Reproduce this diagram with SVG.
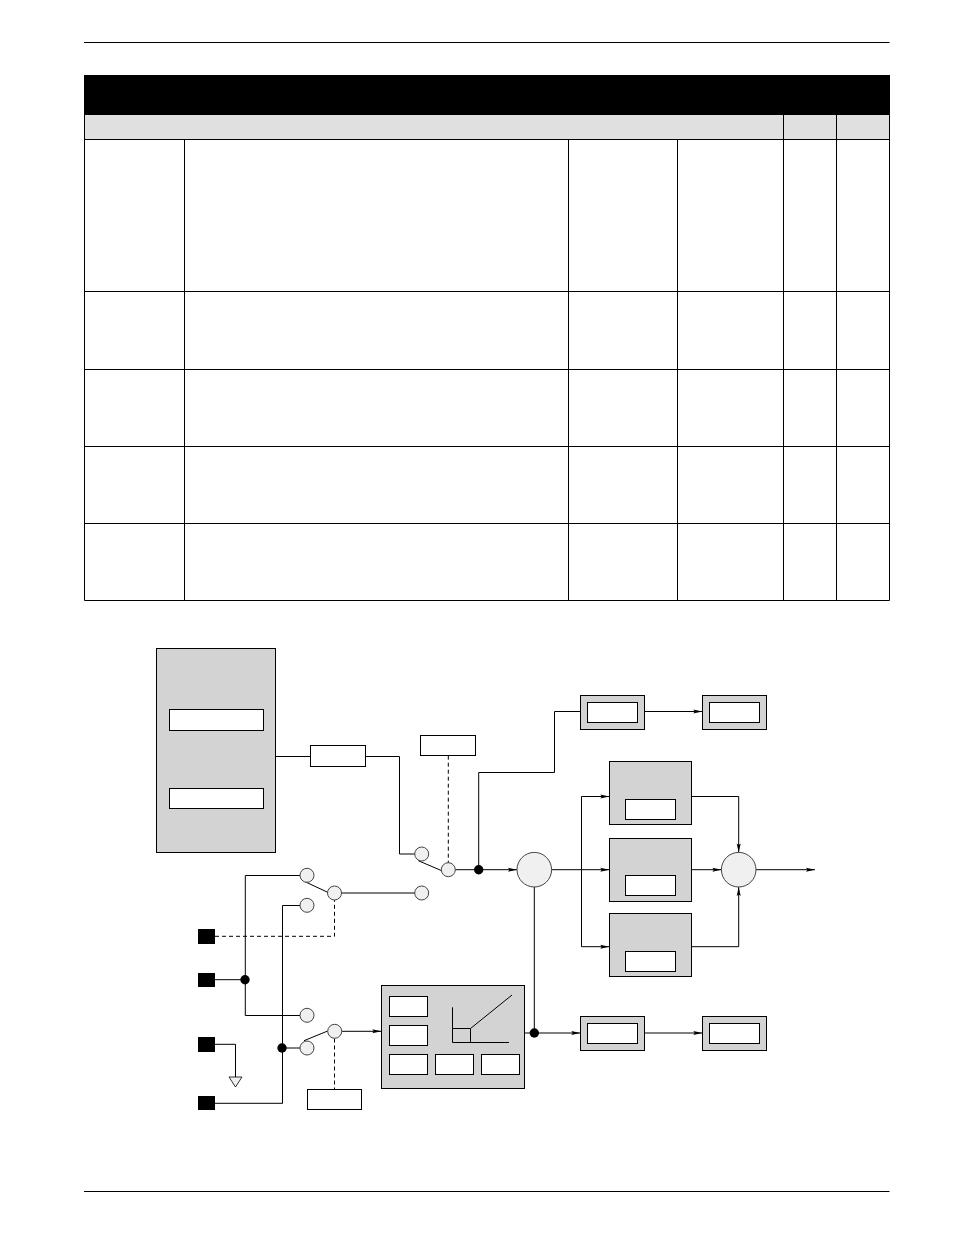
<svg xmlns="http://www.w3.org/2000/svg" width="954" height="1235" viewBox="0 0 954 1235">
<style>
.rule{stroke:#000;stroke-width:1;fill:none}
.gray{fill:#d3d3d3;stroke:#000;stroke-width:1}
.white{fill:#fff;stroke:#000;stroke-width:1}
.pad{fill:#f0f0f0;stroke:#444;stroke-width:1}
.pin{fill:#000;stroke:none}
.dot{fill:#000;stroke:none}
.wire{fill:none;stroke:#000;stroke-width:1}
.dash{fill:none;stroke:#000;stroke-width:1;stroke-dasharray:4 3}
.arrow{marker-end:url(#ah)}
</style>
<defs>
<marker id="ah" markerUnits="userSpaceOnUse" markerWidth="10" markerHeight="6" refX="9" refY="3" orient="auto" overflow="visible">
<path d="M0,1 L9,3 L0,5 L1.5,3 Z" fill="#000"/>
</marker>
</defs>
<rect width="954" height="1235" fill="#fff"/>
<g id="page-rules">
<path class="rule" d="M84 42.5H889.5M84 1191.5H889.5"/>
</g>
<g id="table">
<rect x="84" y="75" width="806" height="40" fill="#000"/>
<rect x="84.5" y="115" width="805" height="24" fill="#e0e0e0"/>
<path class="rule" d="M84.5 115V600.5M889.5 115V600.5M783.5 115V600.5M836.5 115V600.5M184.5 139V600.5M568.5 139V600.5M677.5 139V600.5M84.5 139.5H889.5M84.5 291.5H889.5M84.5 369.5H889.5M84.5 446.5H889.5M84.5 523.5H889.5M84.5 600.5H889.5"/>
</g>
<g id="connectors">
<path class="wire" d="M275.7 756.5H310.3M365.7 756.5H399.5V854H415"/>
<path class="wire" d="M418.3 860.7L441.7 870.7"/>
<path class="wire" d="M455 869.7H478.7"/>
<path class="dash" d="M448.3 755.7V863"/>
<path class="wire" d="M478.7 869.7V772.5H554.5V711.5H580.3"/>
<path class="wire arrow" d="M478.7 869.7H517"/>
<path class="wire" d="M245.3 979.7V875.5H300.5"/>
<path class="wire" d="M282.5 1103.3V905.5H300.5"/>
<path class="wire" d="M305 881.7L327.7 892.3"/>
<path class="wire" d="M341.5 893H415"/>
<path class="dash" d="M215 936.3H334.5V900"/>
<path class="wire" d="M215 979.7H245.3V1015.5H300.5"/>
<path class="wire" d="M215 1044.3H235.5V1077"/>
<path class="wire" d="M215 1103.3H282.5V1048H300.5"/>
<path class="wire" d="M304 1040.7L327.7 1031"/>
<path class="dash" d="M334.5 1038.5V1089.3"/>
<path class="wire arrow" d="M341.7 1031.3H381.3"/>
<path class="wire" d="M524.7 1033H534.3V887"/>
<path class="wire arrow" d="M534.3 1033H580.3"/>
<path class="wire arrow" d="M644.3 711.5H702.3"/>
<path class="wire arrow" d="M644.3 1033H702.3"/>
<path class="wire arrow" d="M551.6 869.7H609.3"/>
<path class="wire arrow" d="M581.5 869.7V946.7H609.3"/>
<path class="wire arrow" d="M581.5 869.7V796.5H609.3"/>
<path class="wire arrow" d="M691.7 796.5H738.7V852.4"/>
<path class="wire arrow" d="M691.7 869.7H721.4"/>
<path class="wire arrow" d="M691.7 946.7H738.7V887"/>
<path class="wire arrow" d="M756 869.7H815"/>
</g>
<g id="source-block">
<rect class="gray" x="156.5" y="648.5" width="119" height="204"/>
<rect class="white" x="169.5" y="709.5" width="94" height="21"/>
<rect class="white" x="169.5" y="788.5" width="94" height="20"/>
</g>
<g id="series-box"><rect class="white" x="310.5" y="745.5" width="55" height="21"/></g>
<g id="control-box-top"><rect class="white" x="420.5" y="735.5" width="55" height="20"/></g>
<g id="control-box-bottom"><rect class="white" x="307.5" y="1089.5" width="54" height="20"/></g>
<g id="switch-1">
<circle class="pad" cx="421.7" cy="854" r="7"/>
<circle class="pad" cx="448.3" cy="869.7" r="7"/>
<circle class="pad" cx="421.7" cy="893" r="7"/>
</g>
<g id="switch-2">
<circle class="pad" cx="307" cy="875.3" r="7"/>
<circle class="pad" cx="307" cy="905.3" r="7"/>
<circle class="pad" cx="334.5" cy="893" r="7"/>
</g>
<g id="switch-3">
<circle class="pad" cx="307" cy="1015.3" r="7"/>
<circle class="pad" cx="307" cy="1048" r="7"/>
<circle class="pad" cx="334.7" cy="1031.3" r="7"/>
</g>
<g id="pins">
<rect class="pin" x="198" y="929" width="17" height="15"/>
<rect class="pin" x="198" y="973" width="17" height="14"/>
<rect class="pin" x="198" y="1037" width="17" height="15"/>
<rect class="pin" x="198" y="1096" width="17" height="14"/>
</g>
<g id="ground"><path d="M229 1077H242L235.5 1087Z" fill="#f0f0f0" stroke="#000" stroke-width="0.8"/></g>
<g id="junctions">
<circle class="dot" cx="478.7" cy="869.7" r="4.7"/>
<circle class="dot" cx="245" cy="979.7" r="4.7"/>
<circle class="dot" cx="282" cy="1048" r="4.7"/>
<circle class="dot" cx="534.3" cy="1033" r="4.7"/>
</g>
<g id="compressor-block">
<rect class="gray" x="381.5" y="985.5" width="143" height="103"/>
<rect class="white" x="389.5" y="996.5" width="38" height="20"/>
<rect class="white" x="389.5" y="1025.5" width="38" height="20"/>
<rect class="white" x="389.5" y="1054.5" width="38" height="20"/>
<rect class="white" x="435.5" y="1054.5" width="38" height="20"/>
<rect class="white" x="481.5" y="1054.5" width="38" height="20"/>
<path class="wire" d="M452.5 1007.3V1042.5H509M452.5 1028.5H470.5V1042.5M470.5 1028.5L512 995"/>
</g>
<g id="summer-1"><circle class="pad" cx="534.3" cy="869.7" r="17.3"/></g>
<g id="summer-2"><circle class="pad" cx="738.7" cy="869.7" r="17.3"/></g>
<g id="filter-1"><rect class="gray" x="609.5" y="761.5" width="82" height="63"/><rect class="white" x="625.5" y="799.5" width="50" height="20"/></g>
<g id="filter-2"><rect class="gray" x="609.5" y="838.5" width="82" height="63"/><rect class="white" x="625.5" y="875.5" width="50" height="20"/></g>
<g id="filter-3"><rect class="gray" x="609.5" y="913.5" width="82" height="63"/><rect class="white" x="625.5" y="951.5" width="50" height="20"/></g>
<g id="meter-1"><rect class="gray" x="580.5" y="695.5" width="64" height="34"/><rect class="white" x="587.5" y="702.5" width="50" height="20"/></g>
<g id="meter-2"><rect class="gray" x="702.5" y="695.5" width="64" height="34"/><rect class="white" x="709.5" y="702.5" width="50" height="20"/></g>
<g id="meter-3"><rect class="gray" x="580.5" y="1016.5" width="64" height="34"/><rect class="white" x="587.5" y="1023.5" width="50" height="20"/></g>
<g id="meter-4"><rect class="gray" x="702.5" y="1016.5" width="64" height="34"/><rect class="white" x="709.5" y="1023.5" width="50" height="20"/></g>
</svg>
